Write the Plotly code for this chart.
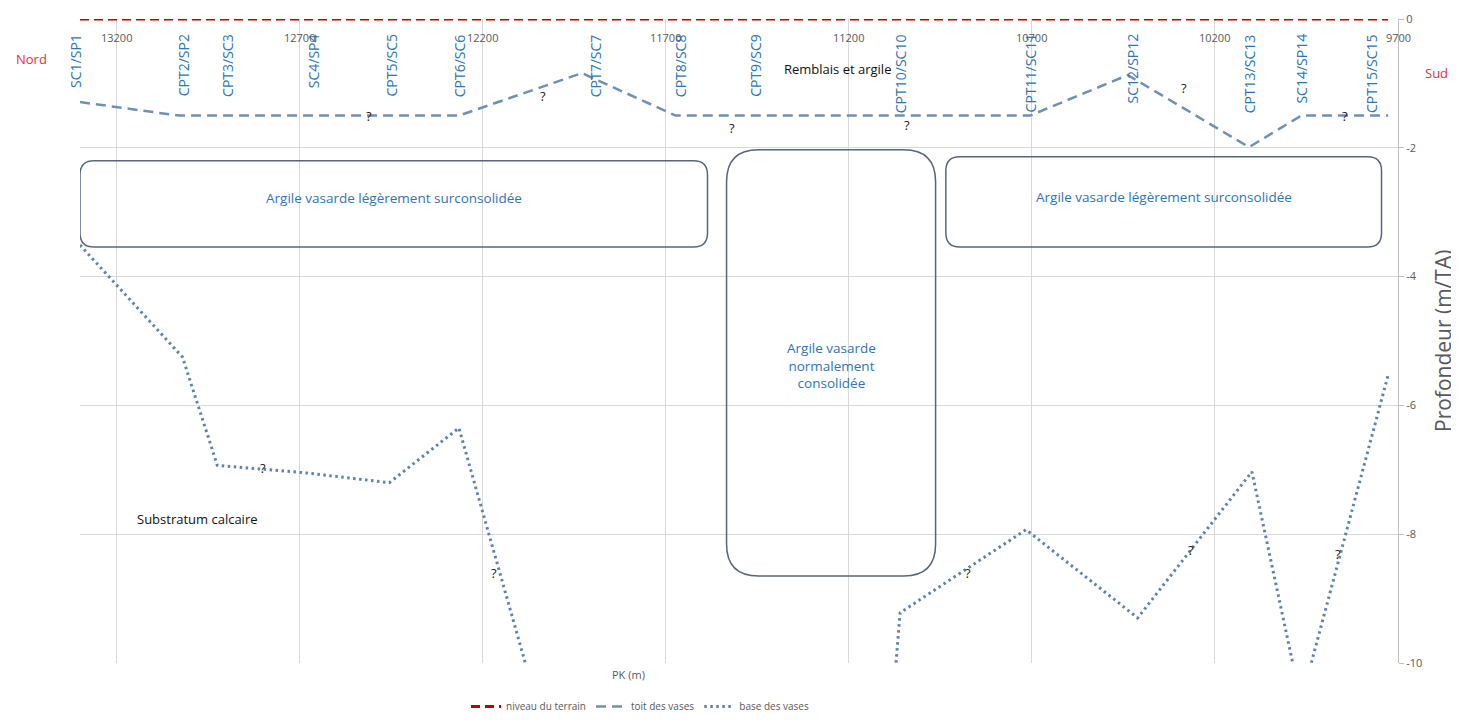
import plotly.graph_objects as go

# ---------------- data ----------------
terrain_pk = [13300, 9727]
terrain_z = [0, 0]

toit_pk = [13300, 13030, 12265, 11929, 11673, 10705, 10438, 10107, 9964, 9727]
toit_z = [-1.29, -1.5, -1.5, -0.84, -1.5, -1.5, -0.87, -1.99, -1.5, -1.5]

base_pk = [13300, 13020, 12925, 12680, 12455, 12265, 11890, 11100, 11060, 10716, 10411, 10099, 9965, 9727]
base_z = [-3.51, -5.25, -6.93, -7.05, -7.2, -6.35, -13.9, -12.0, -9.22, -7.93, -9.3, -7.03, -10.6, -5.53]

boreholes = ["SC1/SP1", "CPT2/SP2", "CPT3/SC3", "SC4/SP4", "CPT5/SC5", "CPT6/SC6", "CPT7/SC7",
             "CPT8/SC8", "CPT9/SC9", "CPT10/SC10", "CPT11/SC11", "SC12/SP12", "CPT13/SC13",
             "SC14/SP14", "CPT15/SC15"]
borehole_pk = [13300, 13015, 12897, 12660, 12450, 12265, 11891, 11659, 11455, 11058, 10705,
               10425, 10107, 9963, 9772]

x_tick_vals = [13200, 12700, 12200, 11700, 11200, 10700, 10200, 9700]
x_tick_text = ["13200", "12700", "12200", "11700", "11200", "10700", "10200", "9700"]
y_tick_vals = [0, -2, -4, -6, -8, -10]
y_tick_text = ["0", "-2", "-4", "-6", "-8", "-10"]

# zone boxes: (left PK, right PK, top depth, bottom depth, corner radius px, label)
zones = [
    (13300, 11586, -2.2, -3.54, 14, "Argile vasarde légèrement surconsolidée"),
    (11534, 10963, -2.03, -8.65, 32, "Argile vasarde<br>normalement<br>consolidée"),
    (10935, 9745, -2.14, -3.54, 14, "Argile vasarde légèrement surconsolidée"),
]
zone_label_depth = [-2.78, -5.38, -2.76]

question_marks = [(12510, -1.5), (12035, -1.2), (11520, -1.7), (11040, -1.65), (10285, -1.07),
                  (9846, -1.5), (12800, -6.97), (12170, -8.6), (10875, -8.6), (10265, -8.25),
                  (9865, -8.3)]

# ---------------- layout geometry ----------------
OFF = 8                      # default page body margin
PL, PT, PR, PB = 80, 19, 1398, 663   # plot area on the page
W, H = 1459 - OFF, 721 - OFF
ML, MT = PL - OFF, PT - OFF
MR = W - (PR - OFF)
MB = H - (PB - OFF)
X_RANGE = [13300, 9700]
Y_RANGE = [-10, 0]
plot_w = PR - PL
plot_h = PB - PT
mx = abs(X_RANGE[0] - X_RANGE[1]) / plot_w   # PK per px
my = abs(Y_RANGE[1] - Y_RANGE[0]) / plot_h   # depth per px


def px(xpage):
    return (xpage - PL) / plot_w


def py(ypage):
    return (PB - ypage) / plot_h


FONT = "Open Sans"
BLUE_TXT = "#2E75B6"
TOIT_C = "#6E90B4"
BASE_C = "#5F82AA"
RED = "#C00000"
GREY = "#595959"

fig = go.Figure()
fig.add_trace(go.Scatter(x=terrain_pk, y=terrain_z, mode="lines", name="niveau du terrain",
                         line=dict(color=RED, width=3, dash="9px,5px")))
fig.add_trace(go.Scatter(x=toit_pk, y=toit_z, mode="lines", name="toit des vases",
                         line=dict(color=TOIT_C, width=2.5, dash="10px,6px")))
fig.add_trace(go.Scatter(x=base_pk, y=base_z, mode="lines", name="base des vases",
                         line=dict(color=BASE_C, width=3, dash="2.5px,3.5px")))


def rounded_path(xl, xr, yt, yb, r):
    rx, ry = r * mx, r * my
    return (f"M {xl - rx},{yt} L {xr + rx},{yt} Q {xr},{yt} {xr},{yt - ry} "
            f"L {xr},{yb + ry} Q {xr},{yb} {xr + rx},{yb} "
            f"L {xl - rx},{yb} Q {xl},{yb} {xl},{yb + ry} "
            f"L {xl},{yt - ry} Q {xl},{yt} {xl - rx},{yt} Z")


shapes = []
annotations = []
for (xl, xr, yt, yb, r, label), ly in zip(zones, zone_label_depth):
    shapes.append(dict(type="path", path=rounded_path(xl, xr, yt, yb, r), xref="x", yref="y",
                       line=dict(color="#56677C", width=1.5), fillcolor="rgba(0,0,0,0)"))
    annotations.append(dict(x=(xl + xr) / 2, y=ly, text=label, showarrow=False, xref="x", yref="y",
                            font=dict(family=FONT, size=13.5, color=BLUE_TXT)))

for i, (name, pk) in enumerate(zip(boreholes, borehole_pk)):
    annotations.append(dict(x=pk, y=-0.2, text=name, textangle=-90, showarrow=False,
                            xref="x", yref="y", xanchor="center", yanchor="top",
                            xshift=-4 if i == 0 else 0,
                            font=dict(family=FONT, size=14, color=BLUE_TXT)))

# x tick labels (drawn just under the ground line, as in the original)
for tv, tt in zip(x_tick_vals, x_tick_text):
    annotations.append(dict(x=tv, y=0, text=tt, showarrow=False, xref="x", yref="y",
                            yanchor="middle", yshift=-18,
                            font=dict(family=FONT, size=11, color=GREY)))

for qx, qy in question_marks:
    annotations.append(dict(x=qx, y=qy, text="?", showarrow=False, xref="x", yref="y",
                            font=dict(family=FONT, size=13, color="#222222")))

annotations += [
    dict(x=11230, y=-0.78, text="Remblais et argile", showarrow=False, xref="x", yref="y",
         font=dict(family=FONT, size=13, color="#111111")),
    dict(x=12980, y=-7.77, text="Substratum calcaire", showarrow=False, xref="x", yref="y",
         font=dict(family=FONT, size=13, color="#111111")),
    dict(x=px(31), y=py(59), text="Nord", showarrow=False, xanchor="center", yanchor="middle",
         xref="paper", yref="paper", font=dict(family=FONT, size=13, color="#E0303A")),
    dict(x=px(1436), y=py(73), text="Sud", showarrow=False, xanchor="center", yanchor="middle",
         xref="paper", yref="paper", font=dict(family=FONT, size=13, color="#E0303A")),
    dict(x=px(1443), y=0.5, text="Profondeur (m/TA)", textangle=-90, showarrow=False,
         xanchor="center", yanchor="middle",
         xref="paper", yref="paper", font=dict(family=FONT, size=21, color=GREY)),
    dict(x=px(628), y=py(674), text="PK (m)", showarrow=False, xanchor="center", yanchor="middle",
         xref="paper", yref="paper", font=dict(family=FONT, size=11, color=GREY)),
]

fig.update_layout(
    width=W, height=H,
    margin=dict(l=ML, r=MR, t=MT, b=MB, pad=0, autoexpand=False),
    plot_bgcolor="white", paper_bgcolor="white",
    showlegend=True,
    legend=dict(orientation="h", x=px(640), xanchor="center",
                y=py(721), yanchor="bottom",
                font=dict(family=FONT, size=10, color=GREY),
                bgcolor="rgba(0,0,0,0)"),
    shapes=shapes,
    annotations=annotations,
    xaxis=dict(range=X_RANGE, tickvals=x_tick_vals, showticklabels=False, automargin=False,
               showgrid=True, gridcolor="#D9D9D9", gridwidth=1,
               zeroline=False, showline=False),
    yaxis=dict(range=Y_RANGE, side="right", tickvals=y_tick_vals, ticktext=y_tick_text,
               automargin=False,
               showgrid=True, gridcolor="#D9D9D9", gridwidth=1, zeroline=False,
               showline=True, linecolor="#BFBFBF", linewidth=1,
               ticks="outside", ticklen=5, tickcolor="#BFBFBF",
               tickfont=dict(family=FONT, size=11, color=GREY)),
)

fig.write_html("out.html")
